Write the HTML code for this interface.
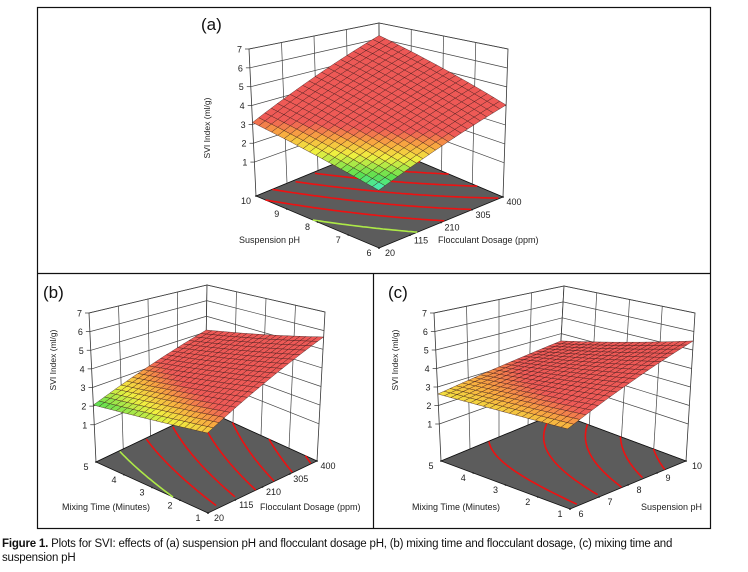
<!DOCTYPE html>
<html><head><meta charset="utf-8">
<style>
html,body{margin:0;padding:0;background:#fff;}
body{width:748px;height:572px;overflow:hidden;position:relative;font-family:"Liberation Sans",sans-serif;}
#cap{position:absolute;left:2px;top:537px;width:744px;font-size:11.5px;line-height:14px;color:#111;letter-spacing:-0.2px;}
</style></head>
<body>
<svg id="fig" width="748" height="535" style="position:absolute;left:0;top:0" xmlns="http://www.w3.org/2000/svg">
<rect x="37.5" y="7.5" width="673" height="521" fill="none" stroke="#111" stroke-width="1.2"/>
<line x1="37" y1="273.5" x2="711" y2="273.5" stroke="#111" stroke-width="1.2"/>
<line x1="373.5" y1="273" x2="373.5" y2="529" stroke="#111" stroke-width="1.2"/>
</svg>
<div id="cap"><b>Figure 1.</b> Plots for SVI: effects of (a) suspension pH and flocculant dosage pH, (b) mixing time and flocculant dosage, (c) mixing time and<br>suspension pH</div>
<script>
// ---- data ----
const panelIds = ['a','b','c'];
// surface corner values [front(x0,y0), right(x1,y0), left(x0,y1), back(x1,y1)]
const surfA = [1.8, 4.05, 3.1, 6.2];
const surfB = [2.7, 5.66, 2.06, 4.12];
const surfC = [2.79, 5.49, 2.62, 3.54];
const zTicks = [1,2,3,4,5,6,7];
const xTicksA = ['20','115','210','305','400'];
const yTicksA = ['6','7','8','9','10'];
const xTicksB = ['20','115','210','305','400'];
const yTicksB = ['1','2','3','4','5'];
const xTicksC = ['6','7','8','9','10'];
const yTicksC = ['1','2','3','4','5'];
const levelsA = [2.5,3,3.5,4,4.5,5,5.5,6];
const levelsB = [2.5,3,3.5,4,4.5,5,5.5];
const levelsC = [3,3.5,4,4.5,5];

// ---- geometry (layout, not data) ----
const geo = {
 a:{F:[379,248],L:[256,196],R:[503,197],L7:[249,49],B7:[379,23],R7:[508,49],zmin:-0.8,
    lab:[201,30],xt:'Flocculant Dosage (ppm)',xtp:[438,243],yt:'Suspension pH',ytp:[300,243],zt:[210,128],
    surf:surfA,xs:xTicksA,ys:yTicksA,lv:levelsA},
 b:{F:[208,513],L:[96,462],R:[317,461],L7:[89,313],B7:[207,285],R7:[325,312],zmin:-1,
    lab:[43,298],xt:'Flocculant Dosage (ppm)',xtp:[260,510],yt:'Mixing Time (Minutes)',ytp:[150,510],zt:[56,360],
    surf:surfB,xs:xTicksB,ys:yTicksB,lv:levelsB},
 c:{F:[570,509],L:[441,461],R:[686,461],L7:[434,313],B7:[564,286],R7:[695,313],zmin:-1,
    lab:[388,298],xt:'Suspension pH',xtp:[641,510],yt:'Mixing Time (Minutes)',ytp:[500,510],zt:[398,360],
    surf:surfC,xs:xTicksC,ys:yTicksC,lv:levelsC}
};
const NS='http://www.w3.org/2000/svg';
const svg=document.getElementById('fig');
function mk(tag,attrs,parent){const e=document.createElementNS(NS,tag);for(const k in attrs)e.setAttribute(k,attrs[k]);(parent||svg).appendChild(e);return e;}
const stops=[[1.75,[64,240,224]],[2.1,[90,224,80]],[2.55,[240,240,64]],[2.9,[248,170,64]],[3.25,[238,90,86]],[9,[236,86,86]]];
function cmap(z){if(z<=stops[0][0])return 'rgb('+stops[0][1]+')';
 for(let i=1;i<stops.length;i++){if(z<=stops[i][0]){const a=stops[i-1],b=stops[i];const t=(z-a[0])/(b[0]-a[0]);
  return 'rgb('+a[1].map((c,k)=>Math.round(c+(b[1][k]-c)*t)).join(',')+')';}}
 return 'rgb('+stops[stops.length-1][1]+')';}

panelIds.forEach(id=>{
 const g=geo[id];
 const F=g.F,L=g.L,R=g.R,B=[L[0]+R[0]-F[0],L[1]+R[1]-F[1]];
 const T7F=[g.L7[0]+g.R7[0]-g.B7[0],g.L7[1]+g.R7[1]-g.B7[1]];
 const zmin=g.zmin,zmax=7;
 function bil(p00,p10,p01,p11,u,v){return [0,1].map(k=>p00[k]*(1-u)*(1-v)+p10[k]*u*(1-v)+p01[k]*(1-u)*v+p11[k]*u*v);}
 function P(u,v,z){const f=bil(F,R,L,B,u,v),t=bil(T7F,g.R7,g.L7,g.B7,u,v);const s=(z-zmin)/(zmax-zmin);return [f[0]+(t[0]-f[0])*s,f[1]+(t[1]-f[1])*s];}
 const s=g.surf;
 function Z(u,v){return s[0]*(1-u)*(1-v)+s[1]*u*(1-v)+s[2]*(1-u)*v+s[3]*u*v;}
 const grp=mk('g',{});
 
 
 const pts=a=>a.map(p=>p[0].toFixed(1)+','+p[1].toFixed(1)).join(' ');
 const lw=mk('polygon',{points:pts([P(0,1,zmin),P(1,1,zmin),P(1,1,zmax),P(0,1,zmax)]),fill:'#fff',stroke:'#333','stroke-width':0.8},grp);
 
 
 const rw=mk('polygon',{points:pts([P(1,1,zmin),P(1,0,zmin),P(1,0,zmax),P(1,1,zmax)]),fill:'#fff',stroke:'#333','stroke-width':0.8},grp);
 
 
 const wg=mk('g',{stroke:'#444','stroke-width':0.7,fill:'none'},grp);
 
 
 [0.25,0.5,0.75].forEach(q=>{
  let a=P(q,1,zmin),b=P(q,1,zmax);mk('line',{x1:a[0],y1:a[1],x2:b[0],y2:b[1]},wg);
  a=P(1,q,zmin);b=P(1,q,zmax);mk('line',{x1:a[0],y1:a[1],x2:b[0],y2:b[1]},wg);});
 zTicks.forEach(zt=>{
  let a=P(0,1,zt),b=P(1,1,zt),c=P(1,0,zt);mk('polyline',{points:pts([a,b,c])},wg);
  const lbl=mk('text',{x:a[0]-7,y:a[1]+3.5,'font-size':9,'text-anchor':'end',fill:'#222'},grp);
  lbl.textContent=zt;
  
  
  mk('line',{x1:a[0]-4,y1:a[1],x2:a[0],y2:a[1],stroke:'#333','stroke-width':0.7},grp);
 });
 const fl=mk('polygon',{points:pts([P(0,0,zmin),P(1,0,zmin),P(1,1,zmin),P(0,1,zmin)]),fill:'#5c5c5c',stroke:'#111','stroke-width':0.8},grp);
 
 
 g.lv.forEach(c=>{
  let seg=[];const segs=[];
  for(let i=0;i<=100;i++){const u=i/100;const den=(s[2]-s[0])+(s[3]-s[1]-s[2]+s[0])*u;
   const v=den===0?-1:(c-s[0]-(s[1]-s[0])*u)/den;
   if(v>=0&&v<=1){seg.push(P(u,v,zmin));}else{if(seg.length>1)segs.push(seg);seg=[];}}
  if(seg.length>1)segs.push(seg);
  segs.forEach(sg=>{const pl=mk('polyline',{points:pts(sg),fill:'none',stroke:c<3?cmap(c-0.15):'#ee1111','stroke-width':1.6},grp);
   
   });
 });
 g.ys.forEach((t,i)=>{const q=i/(g.ys.length-1);const p=P(0,q,zmin);
  mk('circle',{cx:p[0],cy:p[1],r:0.9,fill:'#222'},grp);
  const tx=mk('text',{x:p[0]-10,y:p[1]+8,'font-size':9,'text-anchor':'middle',fill:'#222'},grp);tx.textContent=t;
  
  });
 g.xs.forEach((t,i)=>{const q=i/(g.xs.length-1);const p=P(q,0,zmin);
  mk('circle',{cx:p[0],cy:p[1],r:0.9,fill:'#222'},grp);
  const tx=mk('text',{x:p[0]+11,y:p[1]+8,'font-size':9,'text-anchor':'middle',fill:'#222'},grp);tx.textContent=t;
  
  });
 const N=20;const quads=[];
 for(let i=0;i<N;i++)for(let j=0;j<N;j++)quads.push([i,j]);
 quads.sort((a,b)=>(b[0]+b[1])-(a[0]+a[1]));
 const sg=mk('g',{stroke:'#3a1818','stroke-width':0.45,'stroke-opacity':0.85},grp);
 
 
 quads.forEach(([i,j])=>{const u0=i/N,u1=(i+1)/N,v0=j/N,v1=(j+1)/N;
  const zc=Z((u0+u1)/2,(v0+v1)/2);
  mk('polygon',{points:pts([P(u0,v0,Z(u0,v0)),P(u1,v0,Z(u1,v0)),P(u1,v1,Z(u1,v1)),P(u0,v1,Z(u0,v1))]),fill:cmap(zc)},sg);});
 const xt=mk('text',{x:g.xtp[0],y:g.xtp[1],'font-size':9,fill:'#222','text-anchor':'start'},grp);xt.textContent=g.xt;
 
 
 const yt=mk('text',{x:g.ytp[0],y:g.ytp[1],'font-size':9,fill:'#222','text-anchor':'end'},grp);yt.textContent=g.yt;
 
 
 const zt=mk('text',{x:g.zt[0],y:g.zt[1],'font-size':8.5,fill:'#222','text-anchor':'middle',transform:'rotate(-90 '+g.zt[0]+' '+g.zt[1]+')'},grp);zt.textContent='SVI Index (ml/g)';
 
 
 const lb=mk('text',{x:g.lab[0],y:g.lab[1],'font-size':17,fill:'#111'},grp);lb.textContent='('+id+')';
 
 
});
</script>
</body></html>
